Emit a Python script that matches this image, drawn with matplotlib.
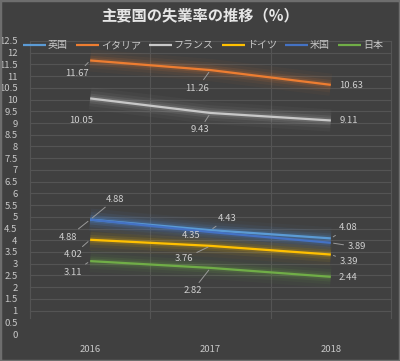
import matplotlib
matplotlib.use("Agg")
import matplotlib.pyplot as plt
import numpy as np

plt.rcParams['font.family'] = ['Noto Sans CJK JP', 'DejaVu Sans']

years = ['2016', '2017', '2018']
series_names = ['英国', 'イタリア', 'フランス', 'ドイツ', '米国', '日本']
uk = [4.88, 4.43, 4.08]
italy = [11.67, 11.26, 10.63]
france = [10.05, 9.43, 9.11]
germany = [4.02, 3.76, 3.39]
us = [4.88, 4.35, 3.89]
japan = [3.11, 2.82, 2.44]
yticks = np.arange(0, 12.51, 0.5)
title = '主要国の失業率の推移（%）'

colors = ['#5b9bd5', '#ed7d31', '#c8c8c8', '#ffc000', '#4472c4', '#70ad47']
all_series = [uk, italy, france, germany, us, japan]

# label offsets in pixels (dx, dy) and leader flag
offsets = {
    0: [(25, 20.6, True), (17, 12, True), (17, 11, True)],
    1: [(-13, -13.5, True), (-13, -18, True), (20, -1, False)],
    2: [(-9, -21.6, False), (-11, -17, True), (18, -0.5, False)],
    3: [(-17, -15, True), (-27, -13, True), (18, -6.5, True)],
    4: [(-22, -17.4, True), (-19, -3, False), (26, -4, True)],
    5: [(-17, -11, True), (-18, -23, True), (17, -1, False)],
}

bg = '#404040'
fig = plt.figure(figsize=(4.0, 3.61), dpi=100, facecolor=bg)
ax = fig.add_axes([30/400, (361-334)/361, 361/400, 293/361])
ax.set_facecolor(bg)
ax.set_xlim(-0.5, 2.5)
ax.set_ylim(0, 12.5)

grid_c = '#545454'
for yv in yticks:
    if yv >= 1:
        ax.plot([-0.5, 2.5], [yv, yv], color=grid_c, lw=0.8, zorder=1, clip_on=False)
for xv in [-0.5, 0.5, 1.5, 2.5]:
    ax.plot([xv, xv], [0.7, 12.5], color=grid_c, lw=0.8, zorder=1, clip_on=False)

x = np.arange(len(years))
handles = []
for i, (vals, c, name) in enumerate(zip(all_series, colors, series_names)):
    for lw, a in [(16, 0.04), (11, 0.06), (7, 0.1), (4, 0.15)]:
        ax.plot(x, vals, color=c, lw=lw, alpha=a, solid_capstyle='butt', zorder=2)
    h, = ax.plot(x, vals, color=c, lw=1.6, solid_capstyle='butt', zorder=3, label=name)
    handles.append(h)

for i, vals in enumerate(all_series):
    for j, v in enumerate(vals):
        dx, dy, lead = offsets[i][j]
        kw = {}
        if lead:
            kw['arrowprops'] = dict(arrowstyle='-', color='#9a9a9a', lw=0.7,
                                    shrinkA=1, shrinkB=2)
        ax.annotate(f'{v:.2f}', xy=(j, v), xytext=(dx, dy), textcoords='offset pixels',
                    ha='center', va='center', fontsize=6.8, color='#d0d0d0', zorder=5, **kw)

ax.set_yticks(yticks)
ax.set_yticklabels([f'{t:g}' for t in yticks], fontsize=6.8, color='#c8c8c8')
ax.set_xticks(x)
ax.set_xticklabels(years, fontsize=6.8, color='#c8c8c8')
ax.tick_params(axis='both', length=0)
ax.tick_params(axis='y', pad=9)
ax.tick_params(axis='x', pad=8)
for s in ax.spines.values():
    s.set_visible(False)

leg = fig.legend(handles=handles, loc='center', bbox_to_anchor=(203/400, 1 - 45/361),
                 ncol=6, frameon=False, fontsize=7.2, handlelength=2.3, handletextpad=0.2,
                 columnspacing=0.8, labelcolor='#c8c8c8')

fig.text(0.5, 1 - 15/361, title, ha='center', va='center', fontsize=11,
         fontweight='bold', color='#e6e6e6')

from matplotlib.patches import Rectangle
fig.patches.append(Rectangle((0, 0), 1, 1, transform=fig.transFigure, fill=False,
                             edgecolor='#6e6e6e', lw=2.5))

fig.savefig('out.png', dpi=100, facecolor=bg)
